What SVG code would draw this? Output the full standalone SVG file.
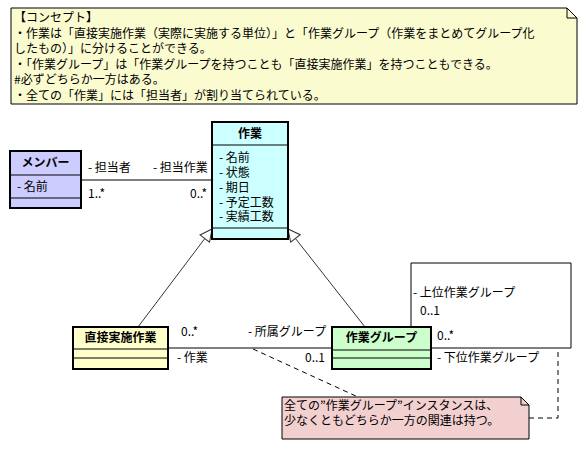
<svg xmlns="http://www.w3.org/2000/svg" width="586" height="449" viewBox="0 0 586 449">
<style>
text{font-family:"MS UI Gothic","Noto Sans CJK JP","Noto Sans CJK SC",sans-serif;font-size:12px;fill:#000}
.t{font-weight:bold;text-anchor:middle}
.box{stroke:#000;stroke-width:2}
.div{stroke:#000;stroke-width:1}
.ln{stroke:#000;stroke-width:1;fill:none}
.gen{stroke:#333;stroke-width:1;fill:none;marker-end:url(#tri)}
.dash{stroke:#000;stroke-width:1;fill:none;stroke-dasharray:5,4}
.note{stroke:#000;stroke-width:1}
</style>
<defs>
<marker id="tri" markerUnits="userSpaceOnUse" markerWidth="14" markerHeight="14" refX="13" refY="7" orient="auto">
<path d="M1,1 L13,7 L1,13 Z" fill="#fff" stroke="#333" stroke-width="1"/>
</marker>
</defs>

<g id="concept-note">
<path class="note" d="M11,8 H567 L577,18 V104 H11 Z" fill="#fbfbd0"/>
<path class="ln" d="M567,8 V18 H577"/>
<text x="14" y="22">【コンセプト】</text>
<text x="14" y="38">・作業は「直接実施作業（実際に実施する単位）」と「作業グループ（作業をまとめてグループ化</text>
<text x="14" y="53">したもの）」に分けることができる。</text>
<text x="14" y="69">・「作業グループ」は「作業グループを持つことも「直接実施作業」を持つこともできる。</text>
<text x="14" y="84">#必ずどちらか一方はある。</text>
<text x="14" y="100">・全ての「作業」には「担当者」が割り当てられている。</text>
</g>

<g id="connectors">
<line class="ln" x1="81" y1="180" x2="212" y2="180"/>
<line class="ln" x1="168" y1="348" x2="332" y2="348"/>
<polyline class="ln" points="431,348 571,348 571,263 411,263 411,327"/>
<line class="gen" x1="138" y1="327" x2="212" y2="229"/>
<line class="gen" x1="365" y1="327" x2="288" y2="229"/>
<line class="dash" x1="253" y1="349" x2="358" y2="397"/>
<polyline class="dash" points="529,418 558,418 558,348"/>
<text x="88" y="172">- 担当者</text>
<text x="153" y="172">- 担当作業</text>
<text x="88" y="198">1..*</text>
<text x="190" y="198">0..*</text>
<text x="181" y="336">0..*</text>
<text x="248" y="336">- 所属グループ</text>
<text x="177" y="362">- 作業</text>
<text x="305" y="362">0..1</text>
<text x="413" y="297">- 上位作業グループ</text>
<text x="420" y="315">0..1</text>
<text x="437" y="340">0..*</text>
<text x="437" y="362">- 下位作業グループ</text>
</g>

<g id="member">
<rect class="box" x="10" y="151" width="71" height="57" fill="#ccccff"/>
<line class="div" x1="10" y1="175" x2="81" y2="175"/>
<line class="div" x1="10" y1="198" x2="81" y2="198"/>
<text class="t" x="45.5" y="167">メンバー</text>
<text x="17" y="191">- 名前</text>
</g>

<g id="task">
<rect class="box" x="212" y="122" width="76" height="117" fill="#ccffff"/>
<line class="div" x1="212" y1="145" x2="288" y2="145"/>
<line class="div" x1="212" y1="228" x2="288" y2="228"/>
<text class="t" x="250" y="138">作業</text>
<text x="219" y="162">- 名前</text>
<text x="219" y="177">- 状態</text>
<text x="219" y="192">- 期日</text>
<text x="219" y="207">- 予定工数</text>
<text x="219" y="221">- 実績工数</text>
</g>

<g id="direct-task">
<rect class="box" x="73" y="327" width="95" height="42" fill="#ffffcc"/>
<line class="div" x1="73" y1="349" x2="168" y2="349"/>
<line class="div" x1="73" y1="358" x2="168" y2="358"/>
<text class="t" x="120.5" y="342">直接実施作業</text>
</g>

<g id="task-group">
<rect class="box" x="332" y="327" width="99" height="42" fill="#ccffcc"/>
<line class="div" x1="332" y1="350" x2="431" y2="350"/>
<line class="div" x1="332" y1="358" x2="431" y2="358"/>
<text class="t" x="381.5" y="342">作業グループ</text>
</g>

<g id="constraint-note">
<path class="note" d="M282,397 H521 L529,405 V439 H282 Z" fill="#f3d0d0"/>
<path class="ln" d="M521,397 V405 H529"/>
<text x="284" y="410">全ての”作業グループ”インスタンスは、</text>
<text x="284" y="425">少なくともどちらか一方の関連は持つ。</text>
</g>
</svg>
